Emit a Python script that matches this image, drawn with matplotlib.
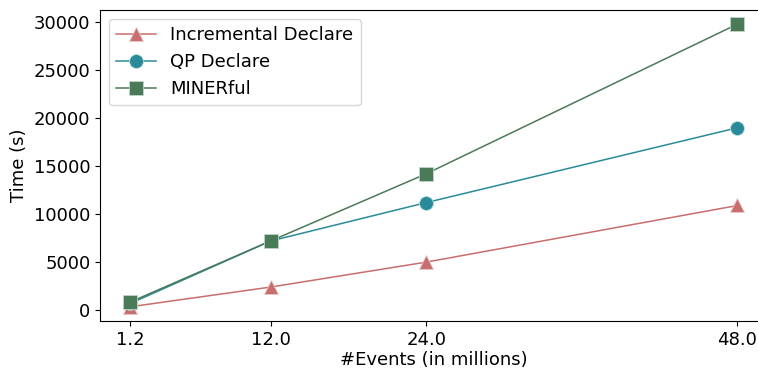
import matplotlib
matplotlib.use("Agg")
import matplotlib.pyplot as plt

events = [1.2, 12.0, 24.0, 48.0]
incremental = [350, 2400, 5000, 10900]
qp = [700, 7200, 11200, 19000]
minerful = [850, 7200, 14200, 29800]

fig = plt.figure(figsize=(7.58, 3.68), dpi=100)
ax = fig.add_axes([0.132, 0.128, 0.881, 0.845])

ax.plot(events, incremental, marker="^", ms=10, color="#c86e6e", lw=1.1,
        mec="#e8c8c8", mew=0.6, label="Incremental Declare")
ax.plot(events, qp, marker="o", ms=10, color="#2b8a9a", lw=1.1,
        mec="#b8dce0", mew=0.6, label="QP Declare")
ax.plot(events, minerful, marker="s", ms=10, color="#4a7a58", lw=1.1,
        mec="#c0d4c6", mew=0.6, label="MINERful")

ax.set_xticks(events)
ax.set_xticklabels([f"{e:.1f}" for e in events])
ax.set_yticks([0, 5000, 10000, 15000, 20000, 25000, 30000])
ax.tick_params(labelsize=13)
ax.set_xlabel("#Events (in millions)", fontsize=13, labelpad=2)
ax.set_ylabel("Time (s)", fontsize=13)
ax.legend(fontsize=13, loc="upper left", handlelength=2.2)

fig.savefig("out.png", dpi=100)
